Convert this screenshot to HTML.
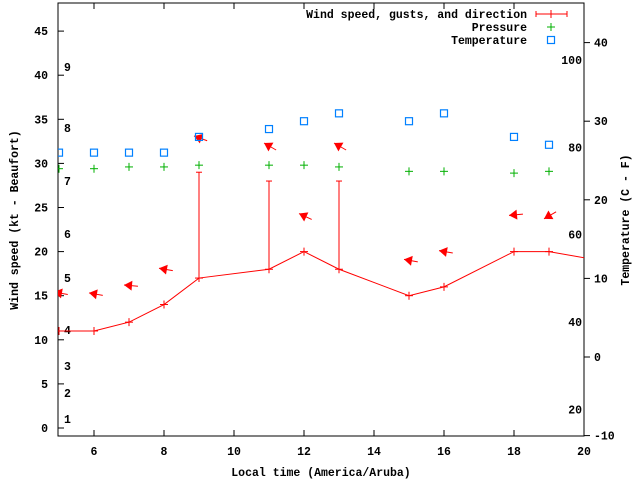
<!DOCTYPE html>
<html><head><meta charset="utf-8"><style>
html,body{margin:0;padding:0;background:#fff}
svg text{font-family:"Liberation Mono",monospace;font-size:11.5px;font-weight:bold;fill:#000}
</style></head><body>
<svg id="chart" width="640" height="480" viewBox="0 0 640 480"></svg>
<script>
const hours=[5,6,7,8,9,11,12,13,15,16,18,19,21];
const windKt=[11,11,12,14,17,18,20,18,15,16,20,20,18.6];
const gustHours=[9,11,13];
const gustKt=[29,28,28];
const dirHours=[5,6,7,8,9,11,12,13,15,16,18,19];
const dirY=[15.3,15.2,16.1,18,33,32.2,24.2,32.2,19,20,24,23.6];
const dirFrom=[100,100,95,100,110,120,115,120,100,100,85,60];
const tempHours=[5,6,7,8,9,11,12,13,15,16,18,19];
const tempC=[26,26,26,26,28,29,30,31,30,31,28,27];
const presHours=[5,6,7,8,9,11,12,13,15,16,18,19];
const presVal=[29.4,29.4,29.6,29.6,29.8,29.8,29.8,29.6,29.1,29.1,28.9,29.1];
const xTicks=[6,8,10,12,14,16,18,20];
const yTicks=[0,5,10,15,20,25,30,35,40,45];
const tTicks=[-10,0,10,20,30,40];
const fLabels=[20,40,60,80,100];
const bftLabels=[[1,419],[2,393],[3,366],[4,330],[5,278],[6,234],[7,181],[8,128],[9,67]];

const L=58,R=584,T=3,B=436;
const X=h=>59+(h-5)*35;
const Y=v=>428-v*8.82;
const TY=c=>357-c*7.86;
const FY=f=>TY((f-32)*5/9);
const NS='http://www.w3.org/2000/svg';
const svg=document.getElementById('chart');
function el(tag,attrs,parent){const e=document.createElementNS(NS,tag);for(const k in attrs)e.setAttribute(k,attrs[k]);(parent||svg).appendChild(e);return e;}
function txt(s,x,y,anchor,parent){const t=el('text',{x:x,y:y,'text-anchor':anchor||'start'},parent);t.textContent=s;return t;}

const defs=el('defs',{});
const cp=el('clipPath',{id:'clip'},defs);
el('rect',{x:L,y:T,width:R-L,height:B-T},cp);

const ax=el('g',{});


el('rect',{x:L,y:T,width:R-L,height:B-T,fill:'none',stroke:'#000','stroke-width':1},ax);
yTicks.forEach(v=>{
  el('line',{x1:L,y1:Y(v),x2:L+6,y2:Y(v),stroke:'#000'},ax);
  const t=txt(String(v),L-10,Y(v)+4,'end',ax);
  
  
});
xTicks.forEach(v=>{
  el('line',{x1:X(v),y1:B,x2:X(v),y2:B-6,stroke:'#000'},ax);
  el('line',{x1:X(v),y1:T,x2:X(v),y2:T+6,stroke:'#000'},ax);
  const t=txt(String(v),X(v),B+19,'middle',ax);
  
  
});
tTicks.forEach(v=>{
  el('line',{x1:R,y1:TY(v),x2:R+6,y2:TY(v),stroke:'#000'},ax);
  const t=txt(String(v),R+10,TY(v)+4,'start',ax);
  
  
});
fLabels.forEach(v=>{
  const t=txt(String(v),582,FY(v)+4,'end',ax);
  
  
});
bftLabels.forEach(b=>{
  const t=txt(String(b[0]),64,b[1]+4,'start',ax);
  
  
});
const xt=txt('Local time (America/Aruba)',321,476,'middle');


const yt=txt('Wind speed (kt - Beaufort)',0,0,'middle');
yt.setAttribute('transform','translate(18,220) rotate(-90)');


const rt=txt('Temperature (C - F)',0,0,'middle');
rt.setAttribute('transform','translate(629,220) rotate(-90)');



const plot=el('g',{'clip-path':'url(#clip)'});



const wl=el('polyline',{points:hours.map((h,i)=>X(h)+','+Y(windKt[i])).join(' '),fill:'none',stroke:'#f00','stroke-width':1},plot);


hours.forEach((h,i)=>{
  const g=el('g',{stroke:'#f00'},plot);
  
  
  el('line',{x1:X(h)-4,y1:Y(windKt[i]),x2:X(h)+4,y2:Y(windKt[i])},g);
  el('line',{x1:X(h),y1:Y(windKt[i])-4,x2:X(h),y2:Y(windKt[i])+4},g);
});
gustHours.forEach((h,i)=>{
  const wi=hours.indexOf(h);
  const g=el('g',{stroke:'#f00'},plot);
  
  
  el('line',{x1:X(h),y1:Y(windKt[wi]),x2:X(h),y2:Y(gustKt[i])},g);
  el('line',{x1:X(h)-3,y1:Y(gustKt[i]),x2:X(h)+3,y2:Y(gustKt[i])},g);
});
dirHours.forEach((h,i)=>{
  const to=(dirFrom[i]+180)*Math.PI/180;
  const dx=Math.sin(to),dy=-Math.cos(to);
  const cx=X(h),cy=Y(dirY[i]);
  const hx=cx-5,hy=cy-1;
  const tx=hx-dx*14,ty=hy-dy*14;
  const g=el('g',{},plot);
  
  
  el('line',{x1:tx,y1:ty,x2:hx,y2:hy,stroke:'#f00'},g);
  const px=-dy,py=dx;
  const bx=hx-dx*8,by=hy-dy*8;
  el('polygon',{points:`${hx},${hy} ${bx+px*5},${by+py*5} ${bx-px*5},${by-py*5}`,fill:'#f00'},g);
});
presHours.forEach((h,i)=>{
  const g=el('g',{stroke:'#00b000'},plot);
  
  
  el('line',{x1:X(h)-4,y1:Y(presVal[i]),x2:X(h)+4,y2:Y(presVal[i])},g);
  el('line',{x1:X(h),y1:Y(presVal[i])-4,x2:X(h),y2:Y(presVal[i])+4},g);
});
tempHours.forEach((h,i)=>{
  const r=el('rect',{x:X(h)-3.5,y:TY(tempC[i])-3.5,width:7,height:7,fill:'none',stroke:'#0080ff','stroke-width':1.2},plot);
  
  
});

const lg=el('g',{});


const e1=el('g',{},lg);


txt('Wind speed, gusts, and direction',527,18,'end',e1);
el('line',{x1:536,y1:14,x2:567,y2:14,stroke:'#f00'},e1);
el('line',{x1:536,y1:11,x2:536,y2:17,stroke:'#f00'},e1);
el('line',{x1:567,y1:11,x2:567,y2:17,stroke:'#f00'},e1);
el('line',{x1:551,y1:10,x2:551,y2:18,stroke:'#f00'},e1);
const e2=el('g',{},lg);


txt('Pressure',527,31,'end',e2);
el('line',{x1:547,y1:27,x2:555,y2:27,stroke:'#00b000'},e2);
el('line',{x1:551,y1:23,x2:551,y2:31,stroke:'#00b000'},e2);
const e3=el('g',{},lg);


txt('Temperature',527,44,'end',e3);
el('rect',{x:547.5,y:36.5,width:7,height:7,fill:'none',stroke:'#0080ff','stroke-width':1.2},e3);
</script>
</body></html>
